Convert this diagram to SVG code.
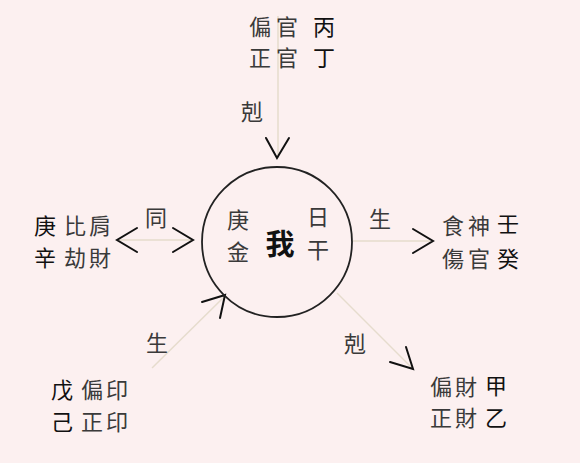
<svg xmlns="http://www.w3.org/2000/svg" width="580" height="463" viewBox="0 0 580 463">
<style>
.t{font-family:"Noto Sans CJK TC","Noto Sans CJK SC",sans-serif;font-size:22px;fill:#3a3a3a;text-anchor:middle;dominant-baseline:central}
.s{fill:#111}
.line{stroke:#e6dccd;stroke-width:1.5;fill:none}
.arr{stroke:#111;stroke-width:2;fill:none;stroke-linecap:round;stroke-linejoin:miter}
</style>
<rect width="580" height="463" fill="#fcf0f0"/>
<g id="connectors">
<line class="line" x1="278" y1="16" x2="278" y2="158"/>
<polyline class="arr" points="266,138 277,158 289,138"/>
<text class="t" x="252" y="110">剋</text>
<line class="line" x1="118" y1="240" x2="193" y2="240"/>
<polyline class="arr" points="137,228 117,240 137,252"/>
<polyline class="arr" points="173,228 193,240 173,252"/>
<text class="t" x="156" y="216">同</text>
<line class="line" x1="353" y1="241" x2="430" y2="241"/>
<polyline class="arr" points="413,229 433,241 413,253"/>
<text class="t" x="380" y="217">生</text>
<line class="line" x1="152" y1="368" x2="224" y2="297"/>
<polyline class="arr" points="202,302 225,295 220,318"/>
<text class="t" x="157" y="341">生</text>
<line class="line" x1="337" y1="293" x2="411" y2="367"/>
<polyline class="arr" points="390,362 413,369 406,347"/>
<text class="t" x="355" y="342">剋</text>
</g>
<g id="center">
<circle cx="277" cy="242" r="75" fill="none" stroke="#222" stroke-width="1.8"/>
<text class="t" x="238" y="218">庚</text>
<text class="t" x="238" y="250">金</text>
<text class="t s" x="280" y="242" style="font-size:29px;font-weight:bold">我</text>
<text class="t" x="318" y="215">日</text>
<text class="t" x="318" y="248">干</text>
</g>
<g id="top">
<text class="t" x="260" y="25">偏</text>
<text class="t" x="287" y="25">官</text>
<text class="t s" x="324" y="25">丙</text>
<text class="t" x="260" y="56">正</text>
<text class="t" x="287" y="56">官</text>
<text class="t s" x="324" y="56">丁</text>
</g>
<g id="left">
<text class="t s" x="45" y="224">庚</text>
<text class="t" x="75" y="224">比</text>
<text class="t" x="100" y="224">肩</text>
<text class="t s" x="45" y="256">辛</text>
<text class="t" x="75" y="256">劫</text>
<text class="t" x="100" y="256">財</text>
</g>
<g id="right">
<text class="t" x="453" y="224">食</text>
<text class="t" x="479" y="224">神</text>
<text class="t s" x="508" y="222">壬</text>
<text class="t" x="453" y="257">傷</text>
<text class="t" x="479" y="257">官</text>
<text class="t s" x="508" y="257">癸</text>
</g>
<g id="bottomleft">
<text class="t s" x="62" y="388">戊</text>
<text class="t" x="92" y="388">偏</text>
<text class="t" x="117" y="388">印</text>
<text class="t s" x="62" y="420">己</text>
<text class="t" x="92" y="420">正</text>
<text class="t" x="117" y="420">印</text>
</g>
<g id="bottomright">
<text class="t" x="441" y="385">偏</text>
<text class="t" x="466" y="385">財</text>
<text class="t s" x="496" y="384">甲</text>
<text class="t" x="441" y="416">正</text>
<text class="t" x="466" y="416">財</text>
<text class="t s" x="496" y="416">乙</text>
</g>
</svg>
